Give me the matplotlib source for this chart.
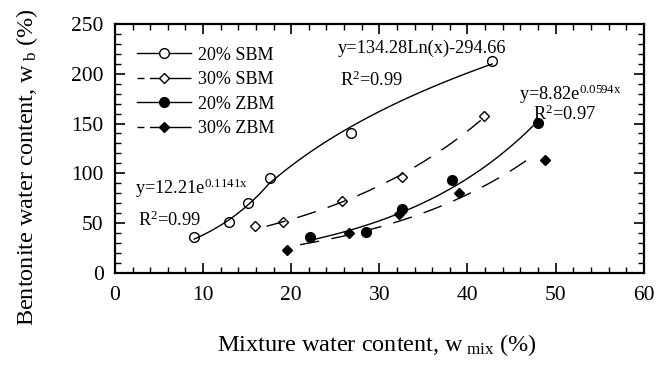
import matplotlib.pyplot as plt
import numpy as np
from matplotlib.ticker import MultipleLocator

plt.rcParams['font.family'] = ['Liberation Serif', 'DejaVu Serif']
plt.rcParams['mathtext.fontset'] = 'custom'
plt.rcParams['mathtext.rm'] = 'Liberation Serif'
plt.rcParams['mathtext.it'] = 'Liberation Serif:italic'

# data
sbm20_x = [9.0, 13.0, 15.1, 17.6, 26.8, 42.8]
sbm20_y = [36, 51, 70, 95, 141, 213]
sbm30_x = [15.9, 19.1, 25.8, 32.6, 41.9]
sbm30_y = [47, 51.5, 72.6, 96.7, 158]
zbm20_x = [22.1, 28.5, 32.6, 38.2, 48.0]
zbm20_y = [36, 41, 64, 93, 151]
zbm30_x = [19.5, 26.6, 32.2, 39.0, 48.8]
zbm30_y = [23, 40.5, 59, 80, 113]

fig = plt.figure(figsize=(6.72, 3.67), dpi=100)
ax = fig.add_axes([0.171, 0.256, 0.787, 0.679])

ms = 7
ax.plot(sbm20_x, sbm20_y, 'o', mfc='white', mec='k', ms=ms, mew=1)
ax.plot(sbm30_x, sbm30_y, 'D', mfc='white', mec='k', ms=ms*0.8, mew=1)
ax.plot(zbm20_x, zbm20_y, 'o', mfc='k', mec='k', ms=ms)
ax.plot(zbm30_x, zbm30_y, 'D', mfc='k', mec='k', ms=ms*0.8)

# trend lines
x1 = np.linspace(9, 17.6, 50)
ax.plot(x1, 12.21*np.exp(0.1141*x1), 'k-', lw=1)
x2 = np.linspace(17.6, 42.8, 80)
ax.plot(x2, 134.28*np.log(x2) - 294.66, 'k-', lw=1)
x3 = np.linspace(22.4, 48, 80)
ax.plot(x3, 8.82*np.exp(0.0594*x3), 'k-', lw=1)

b, a = np.polyfit(sbm30_x[1:], np.log(sbm30_y[1:]), 1)
x4 = np.linspace(17.2, 41.5, 80)
ax.plot(x4, np.exp(a)*np.exp(b*x4), 'k-', lw=1, dashes=(14, 9))
b, a = np.polyfit(zbm30_x, np.log(zbm30_y), 1)
x5 = np.linspace(21, 47.6, 80)
ax.plot(x5, np.exp(a)*np.exp(b*x5), 'k-', lw=1, dashes=(14, 9))

# legend entries
h1, = ax.plot([], [], 'k-', marker='o', mfc='white', ms=ms, lw=1)
h2, = ax.plot([], [], 'k-', marker='D', mfc='white', ms=ms*0.8, lw=1, dashes=(5, 4, 30, 0))
h3, = ax.plot([], [], 'k-', marker='o', mfc='k', ms=ms, lw=1)
h4, = ax.plot([], [], 'k-', marker='D', mfc='k', ms=ms*0.8, lw=1, dashes=(5, 4, 30, 0))
ax.legend([h1, h2, h3, h4], ['20% SBM', '30% SBM', '20% ZBM', '30% ZBM'],
          loc='upper left', frameon=False, fontsize=13, handlelength=3.0,
          handletextpad=0.4, labelspacing=0.42, borderaxespad=0.0,
          bbox_to_anchor=(0.028, 0.938))

fs = 13.2
ax.text(25.3, 225, 'y=134.28Ln(x)-294.66', fontsize=fs, ha='left', va='center')
ax.text(25.5, 193, r'R$^{2}$=0.99', fontsize=fs, ha='left', va='center')
ax.text(45.9, 179, r'y=8.82e$^{\mathrm{0.0594x}}$', fontsize=fs, ha='left', va='center')
ax.text(47.4, 159, r'R$^{2}$=0.97', fontsize=fs, ha='left', va='center')
ax.text(2.3, 85, r'y=12.21e$^{\mathrm{0.1141x}}$', fontsize=fs, ha='left', va='center')
ax.text(2.6, 53, r'R$^{2}$=0.99', fontsize=fs, ha='left', va='center')

ax.set_xlim(0, 60)
ax.set_ylim(0, 250)
ax.xaxis.set_major_locator(MultipleLocator(10))
ax.xaxis.set_minor_locator(MultipleLocator(2))
ax.yaxis.set_major_locator(MultipleLocator(50))
ax.yaxis.set_minor_locator(MultipleLocator(10))
ax.tick_params(which='both', direction='in', top=True, right=True, labelsize=15.5)
ax.tick_params(axis='x', which='major', pad=9)
ax.tick_params(axis='y', which='major', pad=8)
ax.tick_params(which='major', length=7, width=1.2)
ax.tick_params(which='minor', length=4, width=1)
for s in ax.spines.values():
    s.set_linewidth(1.6)

fig.text(377 / 672, 1 - 351 / 367, r'Mixture water content, w$_{\ \mathrm{mix}}$ (%)',
         fontsize=17.5, ha='center', va='baseline')
fig.text(27 / 672, 1 - 167 / 367, r'Bentonite water content, w$_{\ \mathrm{b}}$ (%)',
         fontsize=17.5, ha='center', va='center', rotation=90)

fig.savefig('out.png', dpi=100)
